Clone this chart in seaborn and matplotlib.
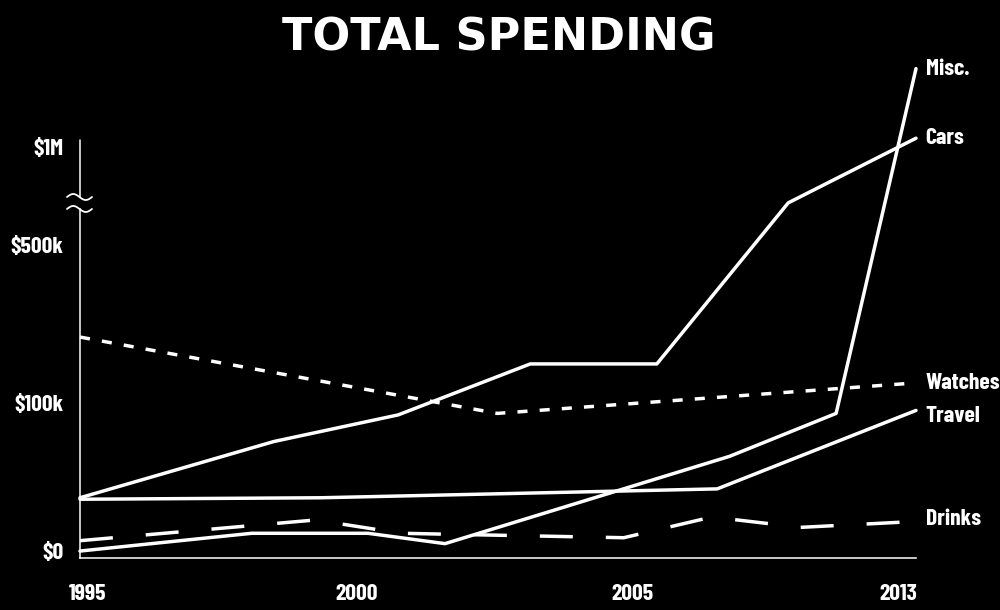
import numpy as np
import pandas as pd
import matplotlib
matplotlib.use('Agg')
import matplotlib.pyplot as plt
from matplotlib import font_manager
from matplotlib.transforms import ScaledTranslation
import seaborn as sns

# values: x in years, y in thousands of dollars
misc_years = [1995, 1998.1, 2000.2, 2001.6, 2007.75, 2010.75, 2013]
misc_vals = [0, 12, 12, 5, 64, 93, 1400]

cars_years = [1995, 1998.5, 2000.75, 2003.15, 2005.7, 2009.4, 2013]
cars_vals = [36, 74, 92, 199, 199, 715, 1045]

watches_years = [1995, 2002.55, 2013]
watches_vals = [267, 93, 151]

travel_years = [1995, 1999.35, 2007.4, 2013]
travel_vals = [35, 36, 42, 95]

drinks_years = [1995, 1999.25, 2000.8, 2004.85, 2007.25, 2009.75, 2013]
drinks_vals = [7, 21, 12, 9, 23, 16, 20]

x_ticks = [1995, 2000, 2005, 2013]
y_ticks = [0, 100, 500, 1000]
y_ticklabels = ['$0', '$100k', '$500k', '$1M']

# the chart's axes are uneven, so map them piecewise
X_KNOTS = [1990, 1995, 2000, 2005, 2013, 2020]
X_POS = [-197, 80, 357, 632, 916, 1164]
Y_KNOTS = [-100, 0, 100, 500, 1000, 1500]
Y_POS = [-148, 0, 148, 306, 404, 502]

frames = []
for name, xs, ys in [('Misc.', misc_years, misc_vals),
                     ('Cars', cars_years, cars_vals),
                     ('Watches', watches_years, watches_vals),
                     ('Travel', travel_years, travel_vals),
                     ('Drinks', drinks_years, drinks_vals)]:
    frames.append(pd.DataFrame({'Year': xs, 'Spending': ys, 'Category': name}))
df = pd.concat(frames, ignore_index=True)

sns.set_theme(style='white', rc={'figure.facecolor': 'black', 'axes.facecolor': 'black',
                                  'savefig.facecolor': 'black'})

# narrow bold face for the labels if there is one, else plain DejaVu
names = {f.name for f in font_manager.fontManager.ttflist}
if 'Barlow Condensed' in names:
    label_props = font_manager.FontProperties(family='Barlow Condensed', weight='bold', size=17)
elif 'Liberation Sans Narrow' in names:
    label_props = font_manager.FontProperties(family='Liberation Sans Narrow', weight='bold', size=17)
else:
    label_props = font_manager.FontProperties(family='DejaVu Sans', weight='bold', size=13)
title_props = font_manager.FontProperties(family='DejaVu Sans', weight='bold', size=32)

fig = plt.figure(figsize=(10, 6.1), dpi=100)
ax = fig.add_axes([0.08, 52 / 610, 0.836, 498 / 610])
ax.set_xscale('function', functions=(lambda v: np.interp(v, X_KNOTS, X_POS),
                                     lambda p: np.interp(p, X_POS, X_KNOTS)))
ax.set_yscale('function', functions=(lambda v: np.interp(v, Y_KNOTS, Y_POS),
                                     lambda p: np.interp(p, Y_POS, Y_KNOTS)))

cats = ['Misc.', 'Cars', 'Watches', 'Travel', 'Drinks']
sns.lineplot(data=df, x='Year', y='Spending', hue='Category', style='Category',
             hue_order=cats, style_order=cats, palette=['white'] * 5,
             dashes={'Misc.': '', 'Cars': '', 'Watches': (2.9, 3.5),
                     'Travel': '', 'Drinks': (9.5, 9.5)},
             linewidth=2.5, legend=False, ax=ax, clip_on=False, estimator=None)

ax.set_xlim(1995, 2013)
ax.set_ylim(-4.7, 1444)

ax.set_xticks(x_ticks)
ax.set_xticklabels([str(t) for t in x_ticks], fontproperties=label_props)
ax.set_yticks(y_ticks)
ax.set_yticklabels(y_ticklabels, fontproperties=label_props)
ax.tick_params(length=0, colors='white')
ax.tick_params(axis='x', pad=19)
ax.tick_params(axis='y', pad=12)
ax.set_xlabel('')
ax.set_ylabel('')

# first and last year labels sit a bit inside the axis ends
xlabs = ax.get_xticklabels()
xlabs[0].set_transform(xlabs[0].get_transform() + ScaledTranslation(0.08, 0, fig.dpi_scale_trans))
xlabs[-1].set_transform(xlabs[-1].get_transform() + ScaledTranslation(-0.18, 0, fig.dpi_scale_trans))

for side in ['top', 'right']:
    ax.spines[side].set_visible(False)
for side in ['left', 'bottom']:
    ax.spines[side].set_color('white')
    ax.spines[side].set_linewidth(1.1)

# axis break on the y axis
ax.spines['left'].set_bounds(-4.7, 684)
ax.plot([1995, 1995], [745, 1036], color='white', lw=1.1, clip_on=False)
t = np.linspace(0, 2 * np.pi, 60)
wx = -0.13 + 0.25 * t / (2 * np.pi)
wy = 0.03 * np.sin(t)
for yv in [684, 745]:
    tr = fig.dpi_scale_trans + ScaledTranslation(1995, yv, ax.transData)
    ax.plot(wx, wy, color='white', lw=1.3, transform=tr, clip_on=False)

# series names at the line ends
nudge = {'Travel': -4, 'Drinks': 2}
for name in cats:
    last = df[df['Category'] == name].iloc[-1]
    ax.annotate(name, xy=(last['Year'], last['Spending']), xytext=(7, nudge.get(name, 0)),
                textcoords='offset points', va='center', ha='left', color='white',
                fontproperties=label_props)

fig.text(0.499, 1 - 38 / 610, 'TOTAL SPENDING', ha='center', va='center', color='white',
         fontproperties=title_props)

fig.savefig('out.png', dpi=100)
